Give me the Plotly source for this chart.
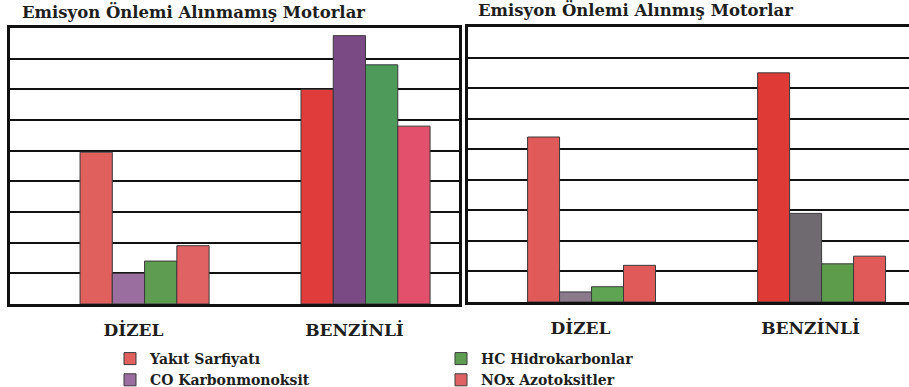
import plotly.graph_objects as go

# ---- data ----
categories = ["DİZEL", "BENZİNLİ"]
series_names = ["Yakıt Sarfiyatı", "CO Karbonmonoksit", "HC Hidrokarbonlar", "NOx Azotoksitler"]

# Emisyon Önlemi Alınmamış Motorlar (left panel)
yakit_onlemsiz = [4.95, 7.0]
co_onlemsiz = [1.0, 8.75]
hc_onlemsiz = [1.4, 7.8]
nox_onlemsiz = [1.9, 5.8]

# Emisyon Önlemi Alınmış Motorlar (right panel)
yakit_onlemli = [5.4, 7.5]
co_onlemli = [0.33, 2.9]
hc_onlemli = [0.5, 1.25]
nox_onlemli = [1.2, 1.5]

title_left = "Emisyon Önlemi Alınmamış Motorlar"
title_right = "Emisyon Önlemi Alınmış Motorlar"

# ---- styles ----
W, H = 909, 387
FONT = "DejaVu Serif"
TXT = "#1e1e1e"

left_colors = [
    ["#E0605E", "#E03C3C"],
    ["#9A6E9E", "#7A4A84"],
    ["#5E9C52", "#4E9A5A"],
    ["#E06262", "#E2506C"],
]
right_colors = [
    ["#E05A5A", "#E03A36"],
    ["#8A7A8C", "#6E6A70"],
    ["#5EA452", "#5C9C4A"],
    ["#E05A5A", "#E05A5A"],
]
left_offsets = [-0.242, -0.096, 0.05, 0.196]
left_width = 0.146
right_offsets = [-0.23, -0.091, 0.048, 0.187]
right_width = 0.139
legend_of = ["legend", "legend", "legend2", "legend2"]

left_values = [yakit_onlemsiz, co_onlemsiz, hc_onlemsiz, nox_onlemsiz]
right_values = [yakit_onlemli, co_onlemli, hc_onlemli, nox_onlemli]

fig = go.Figure()
for i, name in enumerate(series_names):
    fig.add_trace(go.Bar(
        x=categories, y=left_values[i], name=name,
        xaxis="x", yaxis="y",
        offset=left_offsets[i], width=left_width,
        marker=dict(color=left_colors[i], line=dict(color="#3a3a3a", width=1)),
        legend=legend_of[i], showlegend=True,
    ))
for i, name in enumerate(series_names):
    fig.add_trace(go.Bar(
        x=categories, y=right_values[i], name=name,
        xaxis="x2", yaxis="y2",
        offset=right_offsets[i], width=right_width,
        marker=dict(color=right_colors[i], line=dict(color="#3a3a3a", width=1)),
        legend=legend_of[i], showlegend=False,
    ))

def px_x(p):
    return p / W

def px_y(p):
    return 1 - p / H

tickfont = dict(family=FONT, size=17, color=TXT, weight="bold")
common_x = dict(type="category", showgrid=False, showline=True, linecolor="#111",
                linewidth=3, mirror=True, ticks="", tickfont=tickfont,
                ticklabelstandoff=9, automargin=False, fixedrange=True)
common_y = dict(range=[0, 9], dtick=1, showgrid=True, gridcolor="#111", gridwidth=2,
                showticklabels=False, ticks="", zeroline=False, showline=True,
                linecolor="#111", linewidth=3, automargin=False, fixedrange=True)
legfont = dict(family=FONT, size=14, color=TXT, weight="bold")
titlefont = dict(family=FONT, size=16.5, color=TXT)

fig.update_layout(
    width=W, height=H,
    margin=dict(l=0, r=0, t=0, b=0, autoexpand=False),
    paper_bgcolor="white", plot_bgcolor="white",
    barmode="overlay",
    font=dict(family=FONT, color=TXT),
    xaxis=dict(domain=[px_x(10), px_x(459)], range=[-0.559, 1.473], anchor="y", **common_x),
    yaxis=dict(domain=[px_y(304), px_y(28)], anchor="x", mirror=True, **common_y),
    xaxis2=dict(domain=[px_x(468), 1.0], range=[-0.489, 1.428], anchor="y2", **common_x),
    yaxis2=dict(domain=[px_y(302), px_y(27)], anchor="x2", mirror=False, **common_y),
    legend=dict(x=px_x(110), y=px_y(343), xanchor="left", yanchor="top",
                orientation="v", bgcolor="rgba(0,0,0,0)", font=legfont,
                itemwidth=30, tracegroupgap=0),
    legend2=dict(x=px_x(441), y=px_y(343), xanchor="left", yanchor="top",
                 orientation="v", bgcolor="rgba(0,0,0,0)", font=legfont,
                 itemwidth=30, tracegroupgap=0),
    annotations=[
        dict(text="<b>" + title_left + "</b>", x=px_x(20), y=px_y(12), xref="paper", yref="paper",
             xanchor="left", yanchor="middle", showarrow=False, font=titlefont),
        dict(text="<b>" + title_right + "</b>", x=px_x(476), y=px_y(10), xref="paper", yref="paper",
             xanchor="left", yanchor="middle", showarrow=False, font=titlefont),
    ],
)

# the page's default 8px body margin would push the 909x387 figure past the window
fig.write_html("out.html", config={"displayModeBar": False},
               post_script="document.body.style.margin='0px';")
